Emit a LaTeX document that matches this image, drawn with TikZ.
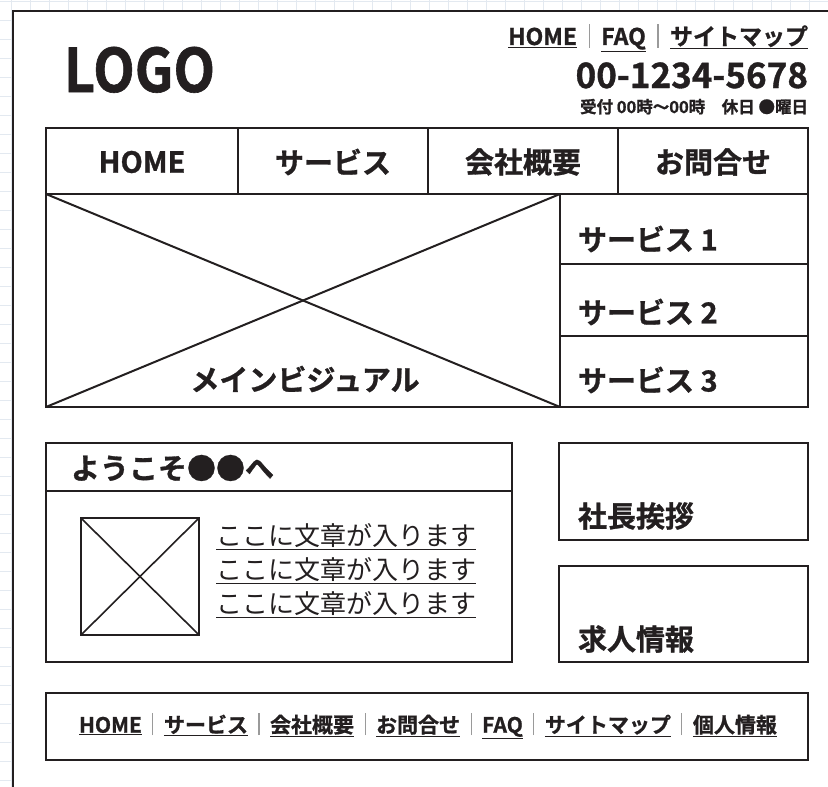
\documentclass[tikz,border=0pt]{standalone}
\usepackage{fontspec}
\setmainfont{Noto Sans CJK JP}[BoldFont={* Bold}]
\newfontfamily\condbold{Noto Sans CJK JP Bold}[FakeStretch=0.9,FakeBold=1]
\newfontfamily\heavy{Noto Sans CJK JP Bold}[FakeBold=1]
\definecolor{ink}{HTML}{231F20}
\definecolor{gridc}{HTML}{E3E9F0}
\definecolor{sepgray}{HTML}{9A9A9A}
\newcommand\vsep{\hspace{0.5em}{\color{sepgray}\rule[-0.12em]{0.05em}{1.05em}}\hspace{0.5em}}
\newcommand\ulx[1]{\underline{#1}}
\begin{document}
\begin{tikzpicture}[x=1pt,y=-1pt,
  every node/.style={inner sep=0pt,outer sep=0pt,text=ink},
  box/.style={draw=ink,line width=2pt},
  thin box/.style={draw=ink,line width=1.6pt},
  gridline/.style={draw=gridc,line width=0.8pt},
  head/.style={font=\heavy\fontsize{29}{29}\selectfont},
  body/.style={font=\fontsize{26}{26}\selectfont}]
\useasboundingbox (0,0) rectangle (828,787);
\clip (0,0) rectangle (828,787);
% background grid
\foreach \i in {0,...,43} \draw[gridline] (11+\i*19,0) -- (11+\i*19,787);
\foreach \i in {0,...,41} \draw[gridline] (0,1+\i*19) -- (828,1+\i*19);
% page frame
\draw[box,fill=white] (13,11) rectangle (840,800);
% header
\node[anchor=base west,font=\condbold\fontsize{60}{60}\selectfont] (logo) at (64,92) {LOGO};
\node[anchor=base east,font=\heavy\fontsize{23}{23}\selectfont] (toplinks) at (808,45) {\ulx{HOME}\vsep\ulx{FAQ}\vsep\ulx{サイトマップ}};
\node[anchor=base east,font=\heavy\fontsize{35}{35}\selectfont] (tel) at (808,88) {00-1234-5678};
\node[anchor=base east,font=\heavy\fontsize{16.5}{16.5}\selectfont] (hours) at (808,113) {受付 00時〜00時\quad 休日 ●曜日};
% navigation
\draw[box] (46,128) rectangle (808,194);
\draw[box] (238,128) -- (238,194);
\draw[box] (428,128) -- (428,194);
\draw[box] (618,128) -- (618,194);
\node[head] (nav1) at (142,162) {HOME};
\node[head] (nav2) at (333,162) {サービス};
\node[head] (nav3) at (523,162) {会社概要};
\node[head] (nav4) at (713,162) {お問合せ};
% main visual
\draw[box] (46,194) rectangle (560,407);
\draw[box] (46,194) -- (560,407);
\draw[box] (46,407) -- (560,194);
\node[head] (mv) at (305,379) {メインビジュアル};
% services
\draw[box] (560,194) rectangle (808,407);
\draw[box] (560,264) -- (808,264);
\draw[box] (560,336) -- (808,336);
\node[head,anchor=west] (s1) at (578,239) {サービス 1};
\node[head,anchor=west] (s2) at (578,312) {サービス 2};
\node[head,anchor=west] (s3) at (578,380) {サービス 3};
% welcome
\draw[box] (46,443) rectangle (512,662);
\draw[box] (46,491) -- (512,491);
\node[head,anchor=west] (welcome) at (71,468) {ようこそ●●へ};
\draw[thin box] (81,518) rectangle (199,635);
\draw[thin box] (81,518) -- (199,635);
\draw[thin box] (81,635) -- (199,518);
\node[body,anchor=west] (t1) at (216,537) {\ulx{ここに文章が入ります}};
\node[body,anchor=west] (t2) at (216,571) {\ulx{ここに文章が入ります}};
\node[body,anchor=west] (t3) at (216,605) {\ulx{ここに文章が入ります}};
% right boxes
\draw[box] (559,443) rectangle (808,540);
\node[head,anchor=west] (greet) at (578,516) {社長挨拶};
\draw[box] (559,566) rectangle (808,662);
\node[head,anchor=west] (recruit) at (578,639) {求人情報};
% footer
\draw[box] (46,693) rectangle (808,760);
\node[font=\heavy\fontsize{21}{21}\selectfont] (foot) at (428,726) {\ulx{HOME}\vsep\ulx{サービス}\vsep\ulx{会社概要}\vsep\ulx{お問合せ}\vsep\ulx{FAQ}\vsep\ulx{サイトマップ}\vsep\ulx{個人情報}};
\end{tikzpicture}
\end{document}
